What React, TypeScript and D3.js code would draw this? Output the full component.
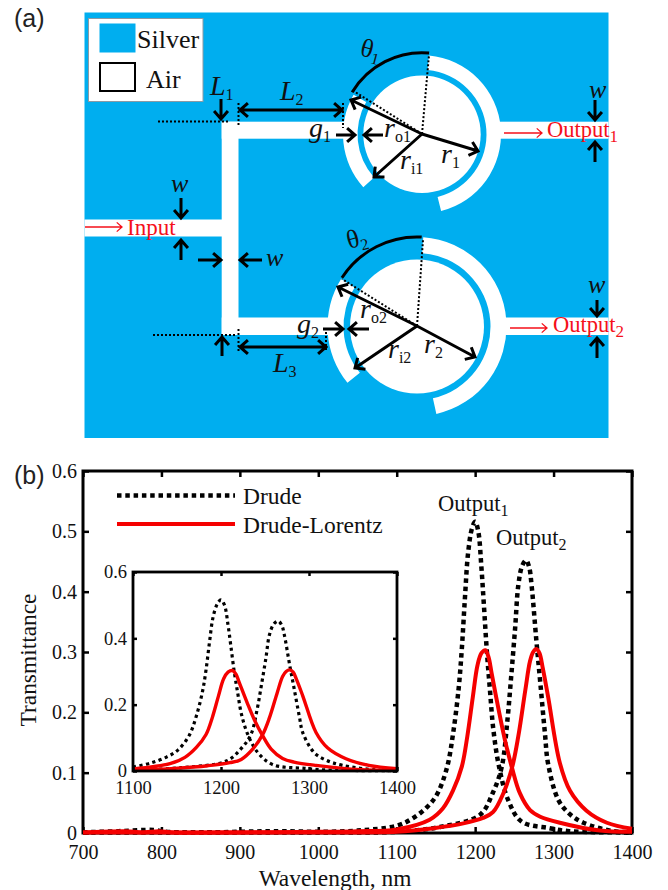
import { useEffect, useRef } from 'react';
import * as d3 from 'd3';

const SILVER = '#00aeef';
const RED = '#f5101a';
const SERIF = '"Liberation Serif", serif';
const SANS = '"Liberation Sans", sans-serif';

// [wavelength nm, transmittance]
const drude1 = [[700, 0.001], [745, 0.003], [790, 0.005], [805, 0.002], [850, 0.001], [950, 0.003], [1000, 0.002], [1050, 0.004], [1100, 0.012], [1120, 0.024], [1138, 0.042], [1151, 0.063], [1164, 0.108], [1172, 0.166], [1179, 0.24], [1183, 0.305], [1187, 0.39], [1191, 0.464], [1196, 0.505], [1200, 0.516], [1204, 0.5], [1208, 0.44], [1211, 0.381], [1215, 0.3], [1219, 0.235], [1223, 0.174], [1230, 0.113], [1242, 0.055], [1259, 0.019], [1295, 0.008], [1320, 0.003], [1400, 0.001]];
const drude2 = [[700, 0.001], [800, 0.001], [900, 0.001], [1000, 0.001], [1100, 0.002], [1155, 0.01], [1206, 0.03], [1223, 0.068], [1234, 0.11], [1241, 0.185], [1246, 0.26], [1251, 0.34], [1255, 0.41], [1260, 0.443], [1265, 0.452], [1269, 0.44], [1272, 0.41], [1278, 0.32], [1283, 0.25], [1289, 0.165], [1293, 0.115], [1306, 0.055], [1320, 0.032], [1338, 0.017], [1376, 0.003], [1400, 0.001]];
const lorentz1 = [[700, 0.001], [755, 0.003], [775, 0.001], [797, 0.003], [815, 0.001], [900, 0.001], [1000, 0.002], [1050, 0.003], [1100, 0.006], [1142, 0.022], [1159, 0.041], [1172, 0.071], [1183, 0.11], [1190, 0.16], [1197, 0.225], [1203, 0.278], [1208, 0.298], [1213, 0.303], [1217, 0.292], [1221, 0.265], [1230, 0.204], [1238, 0.154], [1247, 0.108], [1257, 0.066], [1270, 0.038], [1283, 0.027], [1308, 0.017], [1359, 0.004], [1400, 0.002]];
const lorentz2 = [[700, 0.001], [850, 0.001], [1000, 0.001], [1100, 0.002], [1147, 0.008], [1185, 0.016], [1210, 0.025], [1223, 0.035], [1236, 0.066], [1247, 0.108], [1255, 0.16], [1264, 0.237], [1270, 0.285], [1274, 0.3], [1278, 0.305], [1282, 0.298], [1286, 0.275], [1293, 0.226], [1308, 0.116], [1321, 0.07], [1342, 0.037], [1368, 0.017], [1400, 0.007]];

const mainXTicks = [700, 800, 900, 1000, 1100, 1200, 1300, 1400];
const mainYTicks = [0, 0.1, 0.2, 0.3, 0.4, 0.5, 0.6];
const insetXTicks = [1100, 1200, 1300, 1400];
const insetYTicks = [0, 0.2, 0.4, 0.6];

const deg = (a: number) => (a * Math.PI) / 180;

// black measurement arrows [x1, y1, x2, y2], tip at x2,y2
const arrows = [
  [221, 99, 221, 119], [181, 198, 181, 218], [181, 260, 181, 240], [198, 260, 221, 260], [262, 260, 240, 260],
  [222, 356, 222, 337], [595, 100, 595, 120], [595, 162, 595, 142], [597, 300, 597, 316], [597, 358, 597, 338],
  [336, 135, 355, 135], [383, 135, 364, 135], [323, 329, 343, 329], [369, 329, 349, 329],
  [422, 134, 351, 100], [422, 134, 478, 151], [422, 134, 374, 177],
  [417, 326, 338, 287], [417, 326, 475, 357], [417, 326, 355, 368],
];
const doubleArrows = [[240, 110, 342, 110], [240, 347, 326, 347]];
const redArrows = [[85, 227, 122, 227], [504, 133, 542, 133], [510, 328, 547, 328]];
const dotted = [
  [158, 121.5, 230, 121.5], [238.5, 103, 238.5, 127], [343, 103, 343, 128],
  [153, 335, 235, 335], [238.5, 329, 238.5, 352], [326, 332, 326, 352],
  [422, 134, 429, 55], [422, 134, 352, 90], [417, 326, 423, 240], [417, 326, 342, 279],
];

function Arrow({ a, color = '#000', w = 3, size = 10.5, both = false }: any) {
  const [x1, y1, x2, y2] = a;
  const t = Math.atan2(y2 - y1, x2 - x1);
  const head = (x: number, y: number, ang: number) => {
    const p = (s: number) => `${x + size * Math.cos(ang + s)},${y + size * Math.sin(ang + s)}`;
    return `M${p(Math.PI - 0.72)}L${x},${y}L${p(Math.PI + 0.72)}`;
  };
  return (
    <path fill="none" stroke={color} strokeWidth={w}
      d={`M${x1},${y1}L${x2},${y2}${head(x2, y2, t)}${both ? head(x1, y1, t + Math.PI) : ''}`} />
  );
}

function Sym({ x, y, t, sub, size = 28, subSize = 16, italic = true, fill = '#111', dy = 5 }: any) {
  return (
    <text x={x} y={y} fontFamily={SERIF} fontSize={size} fill={fill}>
      <tspan fontStyle={italic ? 'italic' : 'normal'}>{t}</tspan>
      {sub && <tspan dy={dy} fontSize={subSize} fontStyle="normal">{sub}</tspan>}
    </text>
  );
}

function Ring({ cx, cy, ri, wi, wo, a, b, c, d }: any) {
  const arc = d3.arc();
  return (
    <g transform={`translate(${cx},${cy})`}>
      <circle r={ri} fill="#fff" />
      <path fill="#fff" d={arc({ innerRadius: wi, outerRadius: wo, startAngle: deg(a), endAngle: deg(b) } as any) as string} />
      <path fill="#fff" d={arc({ innerRadius: wi, outerRadius: wo, startAngle: deg(c), endAngle: deg(d) } as any) as string} />
    </g>
  );
}

function thetaArc(cx: number, cy: number, r: number, a: number, b: number) {
  const p = d3.path();
  p.arc(cx, cy, r, deg(a - 90), deg(b - 90), true);
  return p.toString();
}

function Schematic() {
  return (
    <g>
      <rect x={84.5} y={12.5} width={524} height={425.5} fill={SILVER} />
      {/* air channels */}
      <rect x={84.5} y={219.5} width={150} height={17} fill="#fff" />
      <rect x={221.7} y={121.7} width={16.8} height={213.3} fill="#fff" />
      <rect x={221.7} y={121.7} width={125} height={17} fill="#fff" />
      <rect x={221.7} y={317.5} width={110} height={17.5} fill="#fff" />
      <rect x={498} y={121.7} width={110.5} height={17} fill="#fff" />
      <rect x={502} y={317.5} width={106.5} height={17.5} fill="#fff" />
      <Ring cx={422} cy={134.3} ri={58.7} wi={64.5} wo={79} a={5} b={166} c={228} d={300} />
      <Ring cx={417} cy={326.5} ri={67} wi={73.5} wo={89.5} a={4} b={167.5} c={231} d={302} />
      {/* legend */}
      <rect x={88.5} y={18.5} width={114.5} height={83} fill="#fff" stroke="#8a9aa5" strokeWidth={1} />
      <rect x={99.5} y={23.5} width={36} height={29} fill={SILVER} />
      <rect x={100} y={63} width={35} height={28} fill="#fff" stroke="#000" strokeWidth={2} />
      <text x={137} y={48} fontFamily={SERIF} fontSize={26} fill="#111">Silver</text>
      <text x={146} y={88} fontFamily={SERIF} fontSize={26} fill="#111">Air</text>

      {dotted.map((d, i) => (
        <line key={i} x1={d[0]} y1={d[1]} x2={d[2]} y2={d[3]} stroke="#000" strokeWidth={2} strokeDasharray="2 2" />
      ))}
      <path fill="none" stroke="#000" strokeWidth={3} d={thetaArc(422, 134.3, 81.5, 5, -59)} />
      <path fill="none" stroke="#000" strokeWidth={3} d={thetaArc(417, 326.5, 89.5, 3, -57)} />
      {arrows.map((a, i) => <Arrow key={i} a={a} />)}
      {doubleArrows.map((a, i) => <Arrow key={i} a={a} both />)}
      {redArrows.map((a, i) => <Arrow key={i} a={a} color={RED} w={1.3} size={7} />)}

      <Sym x={210} y={95} t="L" sub="1" />
      <Sym x={280} y={100} t="L" sub="2" />
      <Sym x={273} y={372} t="L" sub="3" />
      <Sym x={309} y={137} t="g" sub="1" />
      <Sym x={297} y={333} t="g" sub="2" />
      <Sym x={384} y={137} t="r" sub="o1" />
      <Sym x={360} y={318} t="r" sub="o2" />
      <Sym x={441} y={163} t="r" sub="1" />
      <Sym x={424} y={353} t="r" sub="2" />
      <Sym x={400} y={169} t="r" sub="i1" />
      <Sym x={388} y={358} t="r" sub="i2" />
      <Sym x={171} y={192} t="w" size={26} />
      <Sym x={266} y={266} t="w" size={26} />
      <Sym x={589} y={98} t="w" size={26} />
      <Sym x={588} y={293} t="w" size={26} />
      <g transform="translate(359,55) rotate(15)">
        <Sym x={0} y={0} t="θ" sub="1" size={26} italic={false} />
      </g>
      <g transform="translate(349,249) rotate(-15)">
        <Sym x={0} y={0} t="θ" sub="2" size={26} italic={false} />
      </g>
      <text x={127} y={235} fontFamily={SERIF} fontSize={23} fill={RED}>Input</text>
      <Sym x={547} y={137} t="Output" sub="1" size={22.5} subSize={17} italic={false} fill={RED} />
      <Sym x={553} y={332} t="Output" sub="2" size={22.5} subSize={17} italic={false} fill={RED} />
    </g>
  );
}

function drawAxes(g: any, x: any, y: any, xTicks: number[], yTicks: number[], opt: any) {
  const { w, h, tick, font, frame, padX, padY } = opt;
  const fmt = (d: any) => (d === 0 ? '0' : String(d));
  const style = (s: any) => {
    s.select('.domain').remove();
    s.selectAll('.tick line').attr('stroke', '#000').attr('stroke-width', 2.5);
    s.selectAll('text').attr('fill', '#111').attr('font-size', font).attr('font-family', SERIF);
  };
  g.append('g').attr('transform', `translate(0,${h})`)
    .call(d3.axisBottom(x).tickValues(xTicks).tickFormat(fmt).tickSizeInner(-tick).tickPadding(padX)).call(style);
  g.append('g')
    .call(d3.axisLeft(y).tickValues(yTicks).tickFormat(fmt).tickSizeInner(-tick).tickPadding(padY)).call(style);
  g.append('g')
    .call(d3.axisTop(x).tickValues(xTicks).tickFormat('' as any).tickSizeInner(-tick)).call(style);
  g.append('g').attr('transform', `translate(${w},0)`)
    .call(d3.axisRight(y).tickValues(yTicks).tickFormat('' as any).tickSizeInner(-tick)).call(style);
  g.append('rect').attr('width', w).attr('height', h).attr('fill', 'none').attr('stroke', '#000').attr('stroke-width', frame);
}

export default function App() {
  const chartRef = useRef<SVGGElement>(null);

  useEffect(() => {
    const root = d3.select(chartRef.current);
    root.selectAll('*').remove();

    const m = { left: 83, top: 471, w: 549, h: 362 };
    const x = d3.scaleLinear().domain([700, 1400]).range([0, m.w]);
    const y = d3.scaleLinear().domain([0, 0.6]).range([m.h, 0]);
    const g = root.append('g').attr('transform', `translate(${m.left},${m.top})`);
    drawAxes(g, x, y, mainXTicks, mainYTicks, { w: m.w, h: m.h, tick: 6, font: 20, frame: 3, padX: 12, padY: 6 });

    const line = d3.line().x(d => x(d[0])).y(d => y(d[1])).curve(d3.curveCatmullRom.alpha(0.5));
    [drude1, drude2].forEach(s => {
      g.append('path').attr('d', line(s as any)).attr('fill', 'none').attr('stroke', '#000')
        .attr('stroke-width', 4.5).attr('stroke-dasharray', '4.5 3.8');
    });
    [lorentz1, lorentz2].forEach(s => {
      g.append('path').attr('d', line(s as any)).attr('fill', 'none').attr('stroke', '#f50000').attr('stroke-width', 4);
    });

    // inset
    const n = { left: 133, top: 572, w: 264, h: 199 };
    const ix = d3.scaleLinear().domain([1100, 1400]).range([0, n.w]);
    const iy = d3.scaleLinear().domain([0, 0.6]).range([n.h, 0]);
    const ig = root.append('g').attr('transform', `translate(${n.left},${n.top})`);
    ig.append('rect').attr('width', n.w).attr('height', n.h).attr('fill', '#fff');
    const iline = d3.line().x(d => ix(d[0])).y(d => iy(d[1])).curve(d3.curveCatmullRom.alpha(0.5));
    const zoomed = (s: number[][]) => s.filter(d => d[0] >= 1100);
    [drude1, drude2].forEach(s => {
      ig.append('path').attr('d', iline(zoomed(s) as any)).attr('fill', 'none').attr('stroke', '#000')
        .attr('stroke-width', 3.2).attr('stroke-dasharray', '3.2 3.4');
    });
    [lorentz1, lorentz2].forEach(s => {
      ig.append('path').attr('d', iline(zoomed(s) as any)).attr('fill', 'none').attr('stroke', '#f50000').attr('stroke-width', 3.4);
    });
    drawAxes(ig, ix, iy, insetXTicks, insetYTicks, { w: n.w, h: n.h, tick: 4, font: 18.5, frame: 2.8, padX: 10, padY: 6 });
  }, []);

  return (
    <svg width={668} height={890} style={{ position: 'absolute', left: 0, top: 0, background: '#fff' }}>
      <text x={14} y={27} fontFamily={SANS} fontSize={25} fill="#222">(a)</text>
      <text x={14} y={484} fontFamily={SANS} fontSize={25} fill="#222">(b)</text>
      <Schematic />
      <g ref={chartRef} />
      <line x1={117} x2={235} y1={495.5} y2={495.5} stroke="#000" strokeWidth={4.5} strokeDasharray="4.5 3.8" />
      <line x1={117} x2={235} y1={524} y2={524} stroke="#f50000" strokeWidth={4} />
      <text x={243} y={504} fontFamily={SERIF} fontSize={23.5} fill="#111">Drude</text>
      <text x={243} y={533} fontFamily={SERIF} fontSize={23.5} fill="#111">Drude-Lorentz</text>
      <Sym x={438} y={511} t="Output" sub="1" size={22.5} subSize={16} italic={false} />
      <Sym x={496} y={545} t="Output" sub="2" size={22.5} subSize={16} italic={false} />
      <text x={335} y={886} textAnchor="middle" fontFamily={SERIF} fontSize={23.4} fill="#111">Wavelength, nm</text>
      <text transform="translate(36,660) rotate(-90)" textAnchor="middle" fontFamily={SERIF} fontSize={23.4} fill="#111">Transmittance</text>
    </svg>
  );
}
